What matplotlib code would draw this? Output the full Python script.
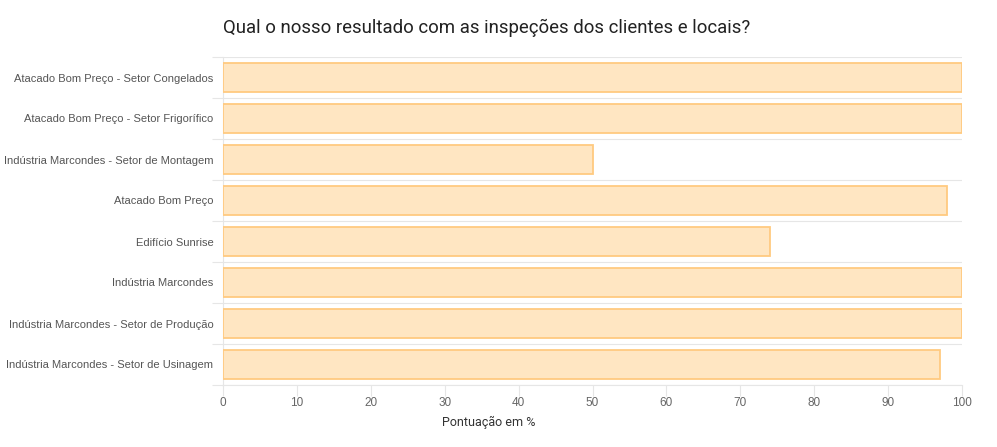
import numpy as np
import matplotlib
matplotlib.use("Agg")
import matplotlib.pyplot as plt

plt.rcParams["font.family"] = ["Liberation Sans", "DejaVu Sans"]

categories = [
    "Atacado Bom Preço - Setor Congelados",
    "Atacado Bom Preço - Setor Frigorífico",
    "Indústria Marcondes - Setor de Montagem",
    "Atacado Bom Preço",
    "Edifício Sunrise",
    "Indústria Marcondes",
    "Indústria Marcondes - Setor de Produção",
    "Indústria Marcondes - Setor de Usinagem",
]
scores = [100, 100, 50, 98, 74, 100, 100, 97]
x_ticks = [0, 10, 20, 30, 40, 50, 60, 70, 80, 90, 100]

fig = plt.figure(figsize=(9.97, 4.47), dpi=100)
ax = fig.add_axes([223 / 997, 1 - 385 / 447, (962 - 223) / 997, (385 - 57) / 447])

y = np.arange(len(categories))
ax.barh(y, scores, height=0.7, color="#FFE6C2", edgecolor="#FFCA80", linewidth=1.3, zorder=3)

ax.set_xlim(0, 100)
ax.set_ylim(len(categories) - 0.5, -0.5)
ax.set_yticks(y)
ax.set_yticklabels(categories, fontsize=8, color="#555555")
ax.set_yticks(np.arange(len(categories) + 1) - 0.5, minor=True)
ax.tick_params(axis="y", which="major", length=0, pad=7)
ax.tick_params(axis="y", which="minor", length=8, color="#e6e6e6", width=0.8)
ax.grid(True, axis="y", which="minor", color="#e6e6e6", linewidth=0.8, zorder=0)

ax.set_xticks(x_ticks)
ax.tick_params(axis="x", length=8, color="#e6e6e6", width=0.8, labelsize=8.5, labelcolor="#666666", pad=1)
ax.set_xlabel("Pontuação em %", fontsize=9, color="#333333", family=["Roboto", "DejaVu Sans"])
ax.xaxis.set_label_coords((489 - 223) / 739, -0.095)

for side in ["top", "right"]:
    ax.spines[side].set_visible(False)
for side in ["left", "bottom"]:
    ax.spines[side].set_color("#e6e6e6")
    ax.spines[side].set_linewidth(0.8)

fig.text(223 / 997, 1 - 28 / 447, "Qual o nosso resultado com as inspeções dos clientes e locais?",
         fontsize=13.4, color="#222222", va="center", ha="left", family=["Roboto", "DejaVu Sans"])

fig.savefig("out.png", dpi=100)
